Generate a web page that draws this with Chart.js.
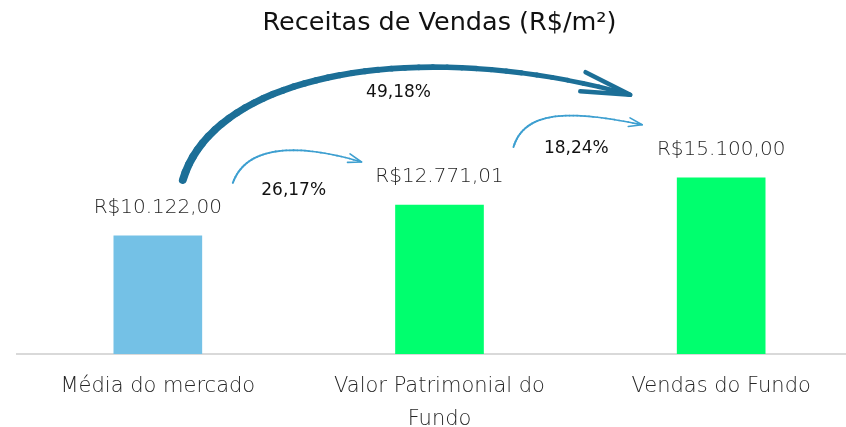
<!DOCTYPE html>
<html>
<head>
<meta charset="utf-8">
<script src="https://cdn.jsdelivr.net/npm/chart.js@4"></script>
<style>
  html, body { margin: 0; padding: 0; background: #fff; overflow: hidden; }
  #wrap { width: 862px; height: 427px; }
</style>
</head>
<body>
<div id="wrap"><canvas id="chart"></canvas></div>
<script>
// --- data ---
const categories = ['Média do mercado', ['Valor Patrimonial do', 'Fundo'], 'Vendas do Fundo'];
const values = [10122.00, 12771.01, 15100.00];
const valueLabels = ['R$10.122,00', 'R$12.771,01', 'R$15.100,00'];
const barColors = ['#74c1e6', '#00ff6e', '#00ff6e'];
const growthLabels = ['26,17%', '18,24%', '49,18%'];

const FONT = '"DejaVu Sans", sans-serif';

// value labels above the bars
const valueLabelPlugin = {
    id: 'valueLabels',
    afterDatasetsDraw(chart) {
        const ctx = chart.ctx;
        const meta = chart.getDatasetMeta(0);
        ctx.save();
        ctx.font = '200 20px ' + FONT;
        ctx.fillStyle = '#262626';
        ctx.textAlign = 'center';
        ctx.textBaseline = 'middle';
        meta.data.forEach((bar, i) => {
            ctx.fillText(valueLabels[i], bar.x, bar.y - 28);
        });
        ctx.restore();
    }
};

function bez(p0, c1, c2, p1, t) {
    const u = 1 - t;
    return {
        x: u*u*u*p0.x + 3*u*u*t*c1.x + 3*u*t*t*c2.x + t*t*t*p1.x,
        y: u*u*u*p0.y + 3*u*u*t*c1.y + 3*u*t*t*c2.y + t*t*t*p1.y
    };
}

// curved arrow, width tapers from w0 to w1
function arrow(ctx, pts, color, w0, w1, head, spread) {
    const [p0, c1, c2, p1] = pts;
    ctx.strokeStyle = color;
    ctx.lineCap = 'round';
    ctx.lineJoin = 'round';
    const n = 40;
    let prev = p0;
    for (let k = 1; k <= n; k++) {
        const t = k / n;
        const p = bez(p0, c1, c2, p1, t);
        ctx.lineWidth = w0 + (w1 - w0) * t;
        ctx.beginPath();
        ctx.moveTo(prev.x, prev.y);
        ctx.lineTo(p.x, p.y);
        ctx.stroke();
        prev = p;
    }
    // arrow head
    const ang = Math.atan2(p1.y - c2.y, p1.x - c2.x);
    ctx.lineWidth = w1;
    ctx.beginPath();
    ctx.moveTo(p1.x - head * Math.cos(ang - spread), p1.y - head * Math.sin(ang - spread));
    ctx.lineTo(p1.x, p1.y);
    ctx.lineTo(p1.x - head * Math.cos(ang + spread), p1.y - head * Math.sin(ang + spread));
    ctx.stroke();
}

// growth arrows between bars
const arrowPlugin = {
    id: 'growthArrows',
    afterDraw(chart) {
        const ctx = chart.ctx;
        const x = chart.scales.x, y = chart.scales.y;
        const px = i => x.getPixelForValue(i);
        const py = i => y.getPixelForValue(values[i]);
        ctx.save();

        // 1 -> 2
        arrow(ctx, [
            { x: px(0) + 75, y: py(0) - 53 },
            { x: px(0) + 90, y: py(0) - 95 },
            { x: px(0) + 150, y: py(0) - 90 },
            { x: px(1) - 78, y: py(1) - 43 }
        ], '#3d9fd0', 2, 1.6, 14, 0.32);
        // 2 -> 3
        arrow(ctx, [
            { x: px(1) + 74, y: py(1) - 58 },
            { x: px(1) + 86, y: py(1) - 98 },
            { x: px(1) + 140, y: py(1) - 93 },
            { x: px(2) - 79, y: py(2) - 53 }
        ], '#3d9fd0', 2, 1.6, 14, 0.32);
        // 1 -> 3
        arrow(ctx, [
            { x: px(0) + 25, y: py(0) - 56 },
            { x: px(0) + 57, y: py(0) - 164 },
            { x: px(1) - 19, y: py(1) - 168 },
            { x: px(2) - 91, y: py(2) - 83 }
        ], '#1c6f97', 8, 4.5, 50, 0.2);

        ctx.font = '400 17px ' + FONT;
        ctx.fillStyle = '#111';
        ctx.textAlign = 'center';
        ctx.textBaseline = 'middle';
        ctx.fillText(growthLabels[0], (px(0) + px(1)) / 2 - 5, py(0) - 45);
        ctx.fillText(growthLabels[1], (px(1) + px(2)) / 2 - 4, py(1) - 56);
        ctx.fillText(growthLabels[2], (px(0) + px(2)) / 2 - 41, py(1) - 112);
        ctx.restore();
    }
};

new Chart(document.getElementById('chart'), {
    type: 'bar',
    data: {
        labels: categories,
        datasets: [{
            data: values,
            backgroundColor: barColors,
            barThickness: 88
        }]
    },
    options: {
        responsive: true,
        maintainAspectRatio: false,
        animation: false,
        layout: { padding: { left: 17, right: 0, top: 0, bottom: -25 } },
        plugins: {
            legend: { display: false },
            tooltip: { enabled: false },
            title: {
                display: true,
                text: 'Receitas de Vendas (R$/m²)',
                color: '#111',
                font: { family: FONT, size: 25.5, weight: '400' },
                padding: { top: 8, bottom: 54 }
            }
        },
        scales: {
            x: {
                grid: { display: false, drawTicks: false },
                border: { display: true, color: '#d9d9d9', width: 2 },
                ticks: {
                    color: '#262626',
                    font: { family: FONT, size: 21, weight: '200', lineHeight: 1.57 },
                    padding: 16,
                    maxRotation: 0,
                    autoSkip: false
                }
            },
            y: {
                display: false,
                min: 0,
                max: 22400
            }
        }
    },
    plugins: [valueLabelPlugin, arrowPlugin]
});
</script>
</body>
</html>
